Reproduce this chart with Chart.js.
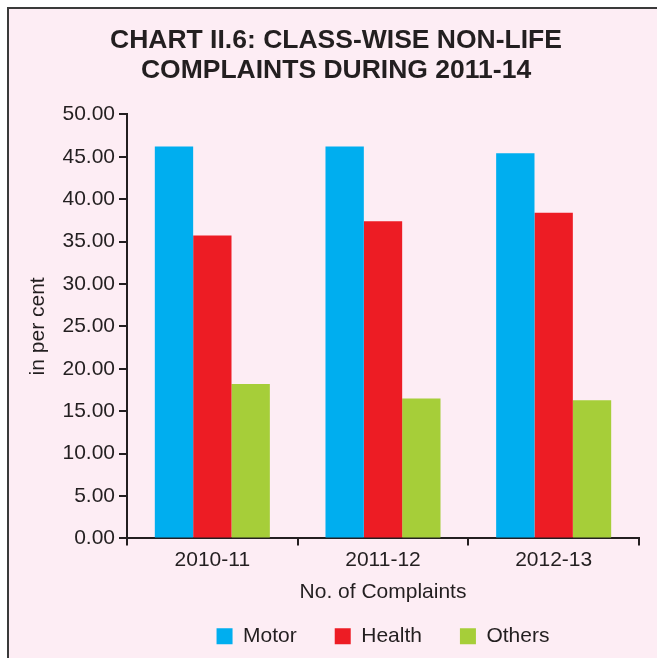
<!DOCTYPE html>
<html>
<head>
<meta charset="utf-8">
<script src="https://cdn.jsdelivr.net/npm/chart.js@4"></script>
<style>
  html, body { margin: 0; padding: 0; background: #fff; overflow: hidden; }
  #frame {
    position: absolute; left: 7px; top: 7px;
    width: 660px; height: 660px;
    background: #fdedf4;
    border-left: 2px solid #3a3a3a;
    border-top: 2px solid #3a3a3a;
  }
  canvas { display: block; }
</style>
</head>
<body>
<div id="frame"><canvas id="chart" width="650" height="651"></canvas></div>
<script>
// ── Data ─────────────────────────────────────────────────
const YEARS  = ['2010-11', '2011-12', '2012-13'];
const MOTOR  = [46.2, 46.2, 45.4];
const HEALTH = [35.7, 37.4, 38.4];
const OTHERS = [18.2, 16.5, 16.3];

const INK  = '#231f20';
const FONT = '"Liberation Sans", Arial, sans-serif';

const ctx = document.getElementById('chart').getContext('2d');
new Chart(ctx, {
  type: 'bar',
  data: {
    labels: YEARS,
    datasets: [
      { label: 'Motor',  data: MOTOR,  backgroundColor: '#00aeef' },
      { label: 'Health', data: HEALTH, backgroundColor: '#ed1c24' },
      { label: 'Others', data: OTHERS, backgroundColor: '#a6ce39' },
    ],
  },
  options: {
    responsive: false,
    animation: false,
    // left padding only nudges the (full width) title to the right, like the print
    layout: { padding: { left: 24, right: 20, top: 0, bottom: 3.3 } },
    datasets: { bar: { barPercentage: 1, categoryPercentage: 0.674 } },
    plugins: {
      tooltip: { enabled: false },
      title: {
        display: true,
        text: ['CHART II.6: CLASS-WISE NON-LIFE', 'COMPLAINTS DURING 2011-14'],
        color: INK,
        font: { family: FONT, size: 26.5, weight: 'bold', lineHeight: 30 / 26.5 },
        padding: { top: 17, bottom: 28.3 },
      },
      legend: {
        position: 'bottom',
        fullSize: false,
        labels: {
          color: INK,
          font: { family: FONT, size: 21 },
          boxWidth: 16, boxHeight: 16,
          padding: 38,
        },
      },
    },
    scales: {
      x: {
        afterFit: s => { s.height = 49.3; },
        grid: { drawOnChartArea: false, tickLength: 7, tickColor: INK, lineWidth: 2, offset: true },
        border: { color: INK, width: 2 },
        ticks: { color: INK, font: { family: FONT, size: 21 }, padding: 2 },
        title: {
          display: true, text: 'No. of Complaints', color: INK,
          font: { family: FONT, size: 21 }, padding: { top: 0, bottom: -17.6 },
        },
      },
      y: {
        min: 0, max: 50,
        afterFit: s => { s.width = 94; },
        grid: { drawOnChartArea: false, tickLength: 8, tickColor: INK, lineWidth: 2 },
        border: { color: INK, width: 2 },
        ticks: {
          stepSize: 5, color: INK, padding: 4,
          font: { family: FONT, size: 21 },
          callback: v => v.toFixed(2),
        },
        title: {
          display: true, text: 'in per cent', color: INK,
          font: { family: FONT, size: 21 }, padding: { top: -7.6, bottom: 0 },
        },
      },
    },
  },
});
</script>
</body>
</html>
